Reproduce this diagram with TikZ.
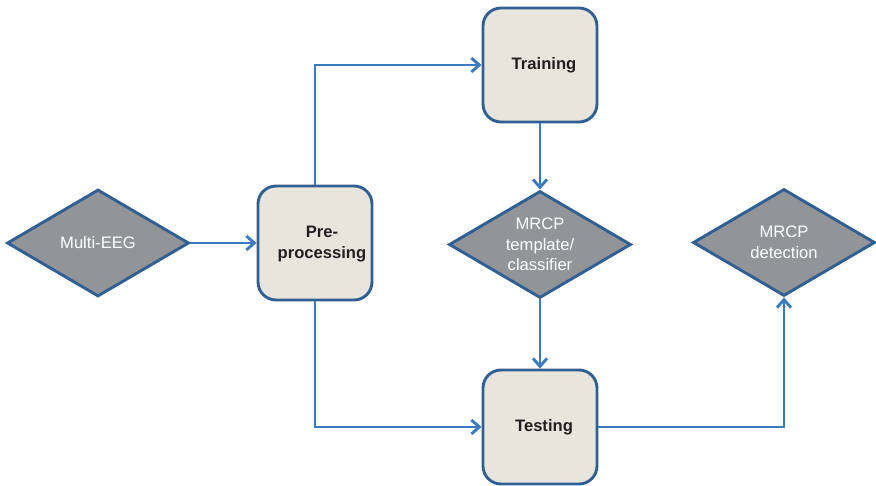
\documentclass[tikz,border=0pt]{standalone}
\usepackage{fontspec}
\setmainfont{Liberation Sans}
\usetikzlibrary{arrows.meta,shapes.geometric}
\definecolor{boxfill}{HTML}{E8E6DC}
\definecolor{edgeblue}{HTML}{2F5F93}
\definecolor{arrowblue}{HTML}{3A7BBF}
\definecolor{diafill}{HTML}{929497}
\definecolor{txtdark}{HTML}{231F20}
\begin{document}
\begin{tikzpicture}[x=1pt,y=-1pt,
  procbox/.style={draw=edgeblue,line width=2.9pt,fill=boxfill,rounded corners=18pt,
    minimum width=114pt,minimum height=114pt,inner sep=0pt},
  boxtext/.style={font=\fontsize{16.6}{21}\selectfont\bfseries,text=txtdark,align=center},
  datadia/.style={draw=edgeblue,line width=2.9pt,fill=diafill,diamond,aspect=1.7,
    minimum width=182pt,minimum height=107pt,inner sep=0pt,
    font=\fontsize{16.6}{20.5}\selectfont,text=white,align=center},
  flow/.style={draw=arrowblue,line width=2.9pt,-{Straight Barb[length=8pt,width=14pt,line width=2.9pt]}}
]
\useasboundingbox (0,0) rectangle (876,486);
\node[datadia] (eeg) at (98,243) {Multi-EEG};
\node[procbox] (pre) at (315,243) {};
\node[boxtext] (pretxt) at (322,244) {Pre-\\processing};
\node[procbox] (train) at (540,65) {};
\node[boxtext] (traintxt) at (544,65) {Training};
\node[datadia] (tmpl) at (540,244.5) {MRCP\\template/\\classifier};
\node[procbox] (test) at (540,427) {};
\node[boxtext] (testtxt) at (544,427) {Testing};
\node[datadia] (det) at (784,242.5) {MRCP\\detection};

\draw[flow] (eeg.east) -- (pre.west);
\draw[flow] (pre.north) |- (train.west);
\draw[flow] (pre.south) |- (test.west);
\draw[flow] (train.south) -- (tmpl.north);
\draw[flow] (tmpl.south) -- (test.north);
\draw[flow] (test.east) -| (det.south);
\end{tikzpicture}
\end{document}
